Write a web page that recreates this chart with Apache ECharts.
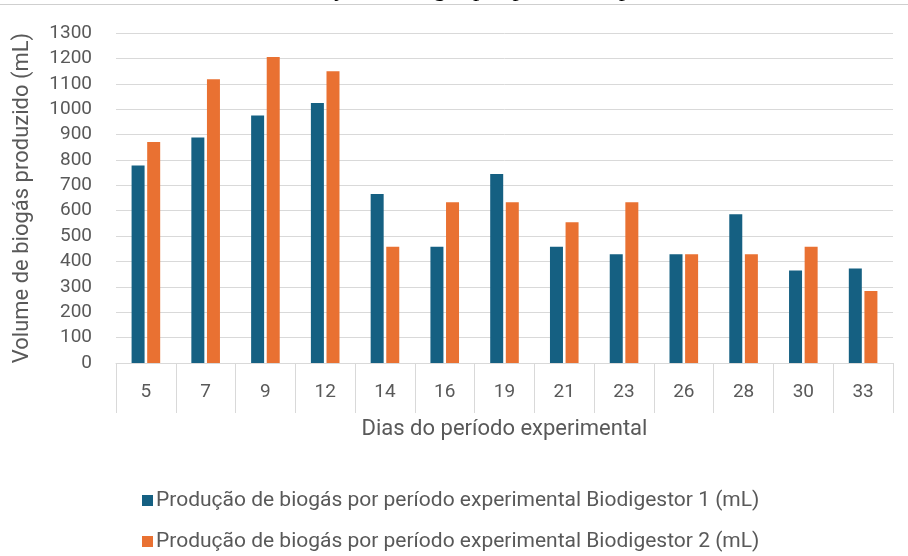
<!DOCTYPE html>
<html lang="pt">
<head>
<meta charset="utf-8">
<title>Produção de biogás</title>
<script src="https://cdn.jsdelivr.net/npm/echarts@6/dist/echarts.min.js"></script>
<style>
  html, body { margin: 0; padding: 0; background: #fff; }
  #chart { width: 908px; height: 556px; }
</style>
</head>
<body>
<div id="chart"></div>
<script>
// dias do período experimental
const dias = ["5", "7", "9", "12", "14", "16", "19", "21", "23", "26", "28", "30", "33"];

// volume de biogás (mL)
const biodigestor1 = [778, 888, 975, 1024, 666, 458, 745, 458, 428, 428, 586, 364, 372];
const biodigestor2 = [871, 1118, 1205, 1149, 458, 633, 633, 554, 633, 428, 428, 458, 284];

const nomeSerie1 = "Produção de biogás por período experimental Biodigestor 1 (mL)";
const nomeSerie2 = "Produção de biogás por período experimental Biodigestor 2 (mL)";

const Y_MIN = 0;
const Y_MAX = 1300;
const Y_STEP = 100;

const FONT = "Roboto";
const TEXT_COLOR = "#595959";
const GRID_COLOR = "#d9d9d9";

const chart = echarts.init(document.getElementById("chart"), null, { renderer: "canvas" });

chart.setOption({
  backgroundColor: "#fff",
  animation: false,
  color: ["#156082", "#E97132"],
  title: {
    // título cortado no topo da imagem original, só aparecem as descendentes
    text: "Produção de biogás por período experimental",
    left: 266,
    top: -28,
    textStyle: { fontFamily: "Liberation Serif", fontSize: 25, fontWeight: "normal", color: "#000" },
  },
  graphic: [
    {
      type: "line",
      shape: { x1: 0, y1: 4.5, x2: 908, y2: 4.5 },
      style: { stroke: "#cfcfcf", lineWidth: 1 },
      z: 10,
    },
  ],
  legend: {
    orient: "vertical",
    left: 142,
    top: 490,
    padding: 0,
    itemWidth: 11,
    itemHeight: 11,
    itemGap: 20,
    icon: "rect",
    textStyle: { fontFamily: FONT, fontSize: 21, color: TEXT_COLOR, padding: [0, 0, 0, -2] },
    data: [nomeSerie1, nomeSerie2],
  },
  grid: { left: 116, right: 15, top: 33, bottom: 193, containLabel: false },
  xAxis: {
    type: "category",
    data: dias,
    boundaryGap: true,
    name: "Dias do período experimental",
    nameLocation: "middle",
    nameGap: 55,
    nameTextStyle: { fontFamily: FONT, fontSize: 22, color: TEXT_COLOR },
    axisLine: { lineStyle: { color: GRID_COLOR, width: 1 } },
    axisTick: { show: true, interval: 0, length: 50, alignWithLabel: false, lineStyle: { color: GRID_COLOR } },
    axisLabel: { interval: 0, margin: 20, fontFamily: FONT, fontSize: 19, color: TEXT_COLOR },
  },
  yAxis: {
    type: "value",
    min: Y_MIN,
    max: Y_MAX,
    interval: Y_STEP,
    name: "Volume de biogás produzido (mL)",
    nameLocation: "middle",
    nameGap: 83,
    nameTextStyle: { fontFamily: FONT, fontSize: 22, color: TEXT_COLOR },
    axisLine: { show: false },
    axisTick: { show: false },
    axisLabel: {
      margin: 24,
      fontFamily: FONT,
      fontSize: 19,
      color: TEXT_COLOR,
      formatter: (v) => String(v),
    },
    splitLine: { lineStyle: { color: GRID_COLOR, width: 1 } },
  },
  series: [
    {
      name: nomeSerie1,
      type: "bar",
      data: biodigestor1,
      barWidth: 13,
      barGap: "20%",
    },
    {
      name: nomeSerie2,
      type: "bar",
      data: biodigestor2,
      barWidth: 13,
      barGap: "20%",
    },
  ],
});
</script>
</body>
</html>
